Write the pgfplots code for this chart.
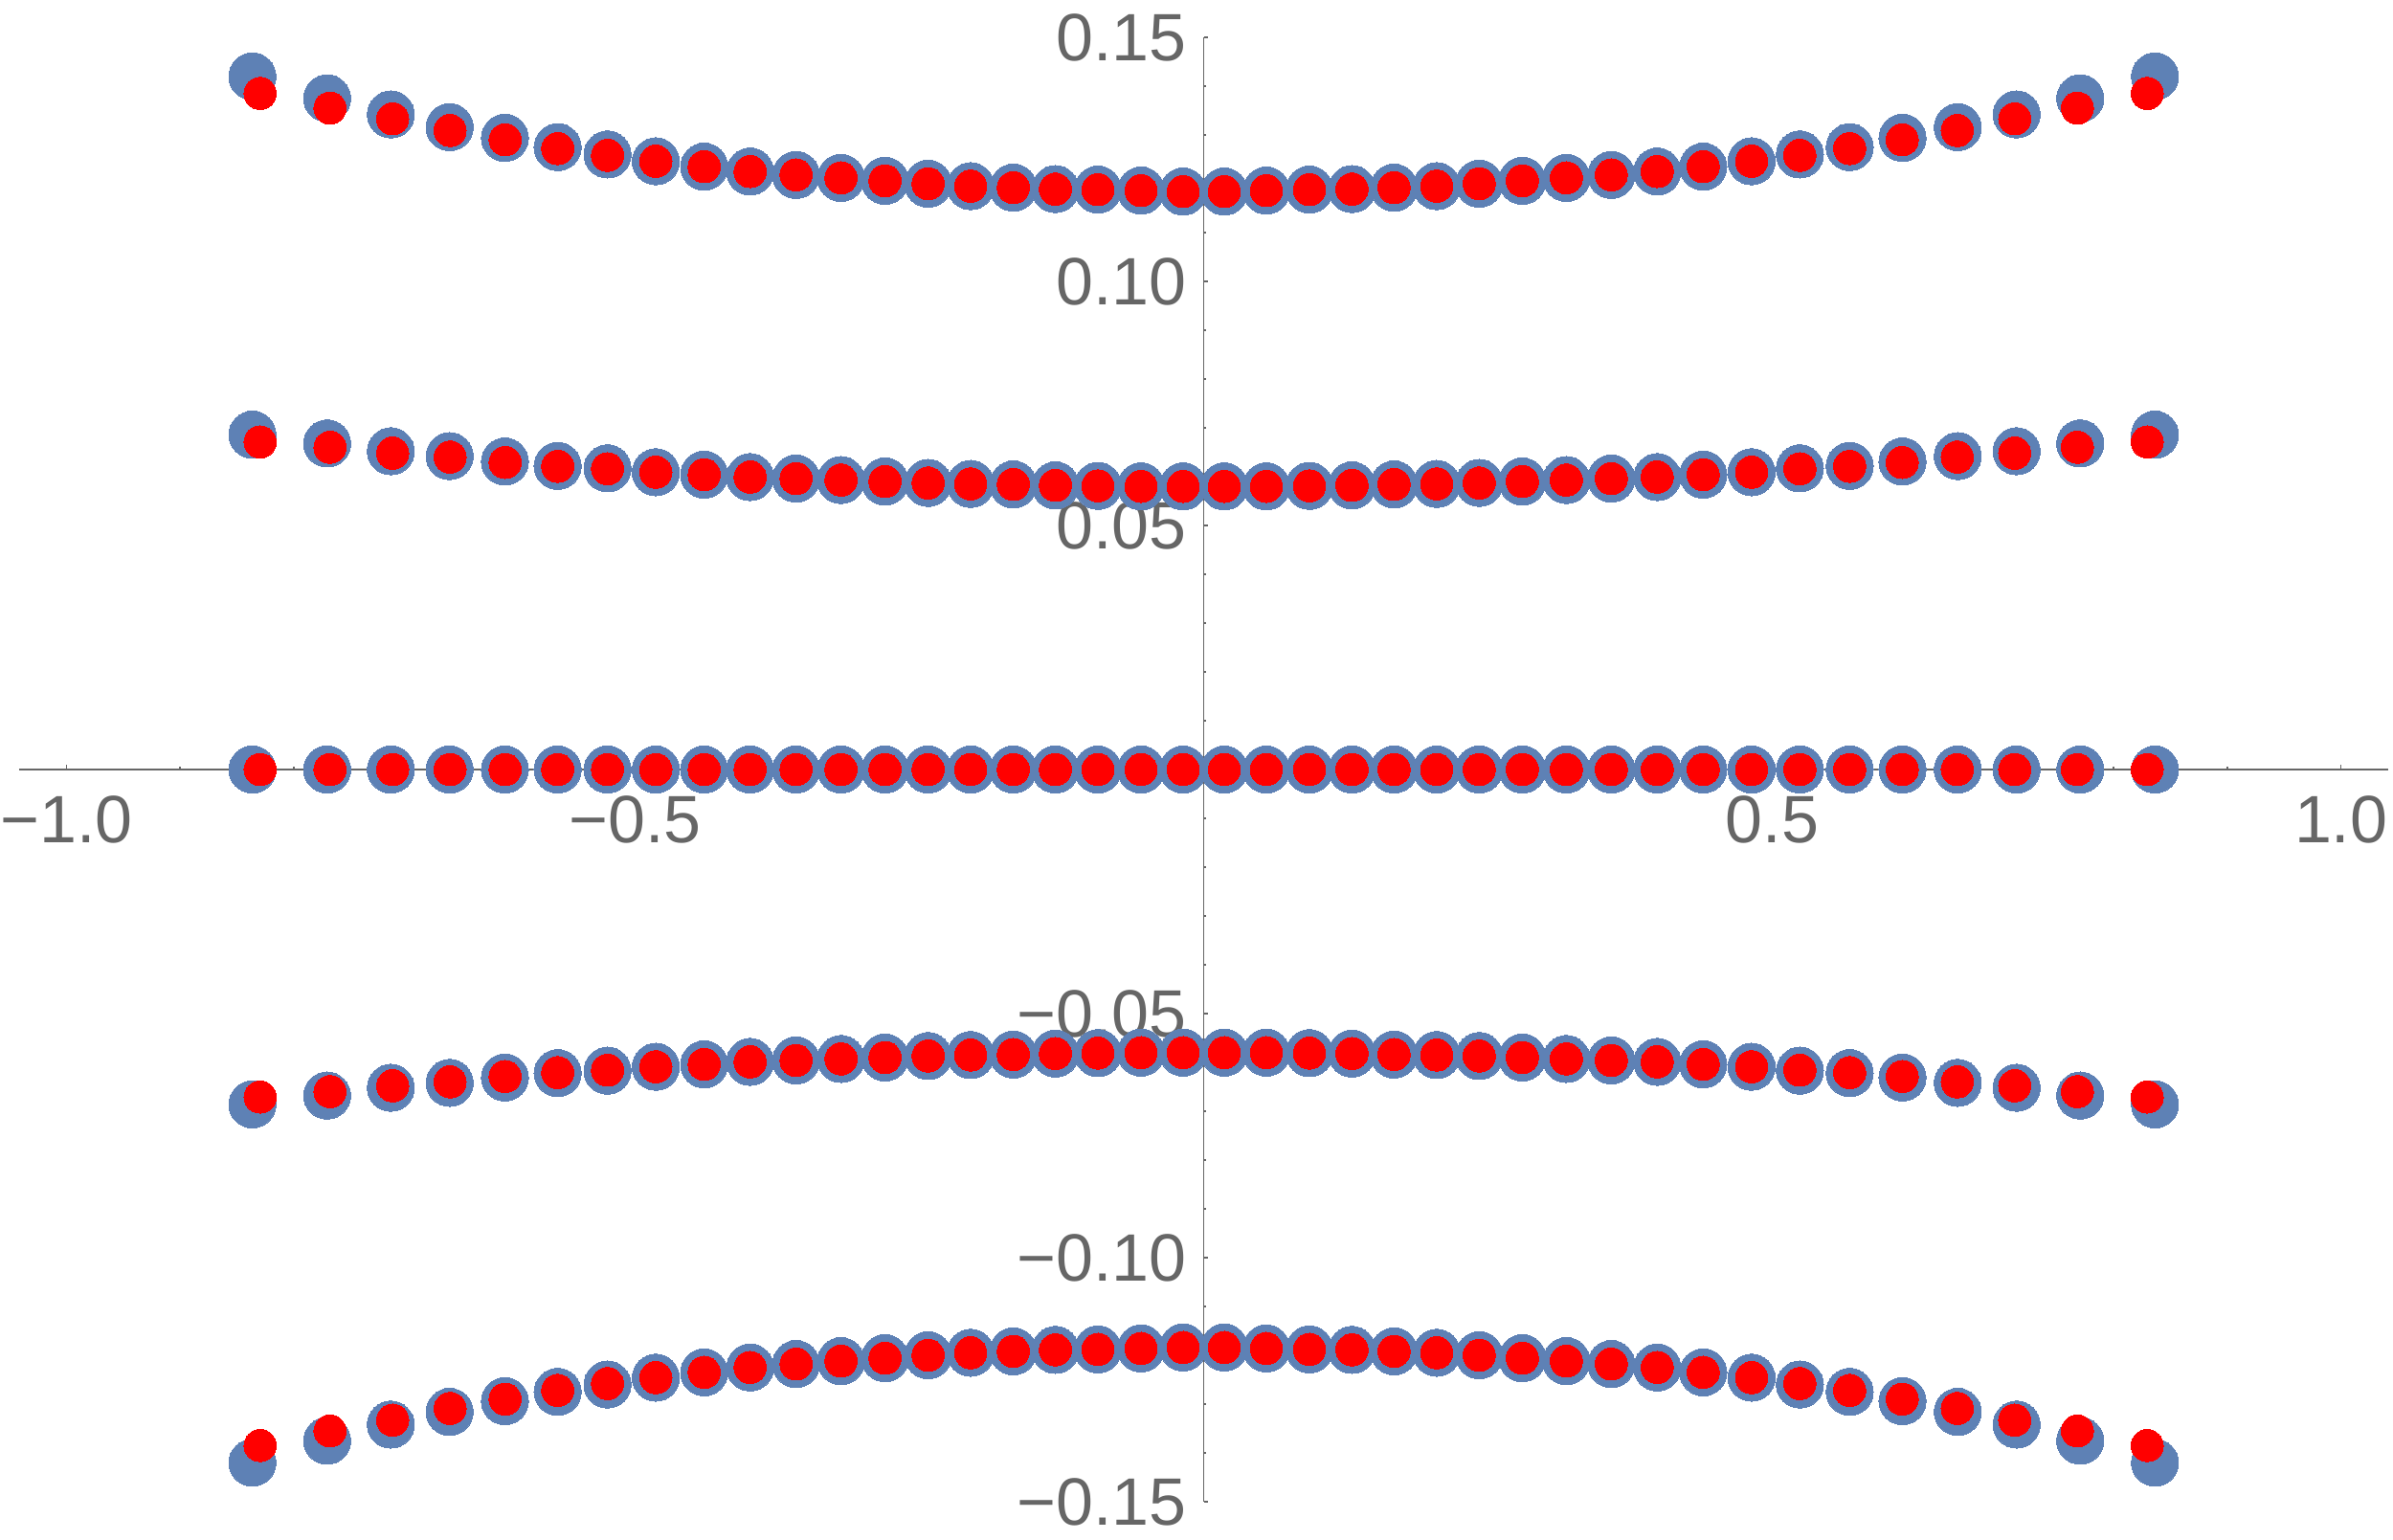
\documentclass[border=0pt]{standalone}
\usepackage{fontspec}
\setmainfont{Liberation Sans}
\usepackage{pgfplots}
\usepackage{pgfplotstable}
\pgfplotsset{compat=1.18}
\definecolor{mblue}{HTML}{5E81B5}
\definecolor{mred}{HTML}{FF0000}
\definecolor{axgray}{HTML}{666666}

% columns: x, five rows of points (top to bottom)
\pgfplotstableread{
x y1 y2 y3 y4 y5
-0.8296 0.1385 0.0671 0 -0.0671 -0.1385
-0.7682 0.1355 0.0660 0 -0.0660 -0.1355
-0.7131 0.1333 0.0648 0 -0.0648 -0.1333
-0.6626 0.1309 0.0640 0 -0.0640 -0.1309
-0.6142 0.1290 0.0629 0 -0.0629 -0.1290
-0.5680 0.1272 0.0621 0 -0.0621 -0.1272
-0.5242 0.1258 0.0616 0 -0.0616 -0.1258
-0.4817 0.1246 0.0609 0 -0.0609 -0.1246
-0.4392 0.1235 0.0604 0 -0.0604 -0.1235
-0.3988 0.1225 0.0599 0 -0.0599 -0.1225
-0.3584 0.1218 0.0596 0 -0.0596 -0.1218
-0.3189 0.1212 0.0593 0 -0.0593 -0.1212
-0.2802 0.1206 0.0590 0 -0.0590 -0.1206
-0.2423 0.1200 0.0587 0 -0.0587 -0.1200
-0.2049 0.1195 0.0585 0 -0.0585 -0.1195
-0.1674 0.1192 0.0584 0 -0.0584 -0.1192
-0.1304 0.1189 0.0582 0 -0.0582 -0.1189
-0.0930 0.1188 0.0581 0 -0.0581 -0.1188
-0.0551 0.1186 0.0580 0 -0.0580 -0.1186
-0.0181 0.1184 0.0580 0 -0.0580 -0.1184
0.0181 0.1184 0.0580 0 -0.0580 -0.1184
0.0551 0.1186 0.0580 0 -0.0580 -0.1186
0.0930 0.1188 0.0581 0 -0.0581 -0.1188
0.1304 0.1189 0.0582 0 -0.0582 -0.1189
0.1674 0.1192 0.0584 0 -0.0584 -0.1192
0.2049 0.1195 0.0585 0 -0.0585 -0.1195
0.2423 0.1200 0.0587 0 -0.0587 -0.1200
0.2802 0.1206 0.0590 0 -0.0590 -0.1206
0.3189 0.1212 0.0593 0 -0.0593 -0.1212
0.3584 0.1218 0.0596 0 -0.0596 -0.1218
0.3988 0.1225 0.0599 0 -0.0599 -0.1225
0.4392 0.1235 0.0604 0 -0.0604 -0.1235
0.4817 0.1246 0.0609 0 -0.0609 -0.1246
0.5242 0.1258 0.0616 0 -0.0616 -0.1258
0.5680 0.1272 0.0621 0 -0.0621 -0.1272
0.6142 0.1290 0.0629 0 -0.0629 -0.1290
0.6626 0.1309 0.0640 0 -0.0640 -0.1309
0.7131 0.1333 0.0648 0 -0.0648 -0.1333
0.7682 0.1355 0.0660 0 -0.0660 -0.1355
0.8296 0.1385 0.0671 0 -0.0671 -0.1385
}\redpts

\pgfplotstableread{
x y1 y2 y3 y4 y5
-0.8364 0.1420 0.0686 0 -0.0686 -0.1420
-0.7707 0.1375 0.0668 0 -0.0668 -0.1375
-0.7147 0.1342 0.0652 0 -0.0652 -0.1342
-0.6630 0.1316 0.0642 0 -0.0642 -0.1316
-0.6144 0.1294 0.0631 0 -0.0631 -0.1294
-0.5680 0.1275 0.0622 0 -0.0622 -0.1275
-0.5242 0.1260 0.0617 0 -0.0617 -0.1260
-0.4817 0.1246 0.0609 0 -0.0609 -0.1246
-0.4392 0.1235 0.0604 0 -0.0604 -0.1235
-0.3988 0.1225 0.0599 0 -0.0599 -0.1225
-0.3584 0.1218 0.0596 0 -0.0596 -0.1218
-0.3189 0.1212 0.0593 0 -0.0593 -0.1212
-0.2802 0.1206 0.0590 0 -0.0590 -0.1206
-0.2423 0.1200 0.0587 0 -0.0587 -0.1200
-0.2049 0.1195 0.0585 0 -0.0585 -0.1195
-0.1674 0.1192 0.0584 0 -0.0584 -0.1192
-0.1304 0.1189 0.0582 0 -0.0582 -0.1189
-0.0930 0.1188 0.0581 0 -0.0581 -0.1188
-0.0551 0.1186 0.0580 0 -0.0580 -0.1186
-0.0181 0.1184 0.0580 0 -0.0580 -0.1184
0.0181 0.1184 0.0580 0 -0.0580 -0.1184
0.0551 0.1186 0.0580 0 -0.0580 -0.1186
0.0930 0.1188 0.0581 0 -0.0581 -0.1188
0.1304 0.1189 0.0582 0 -0.0582 -0.1189
0.1674 0.1192 0.0584 0 -0.0584 -0.1192
0.2049 0.1195 0.0585 0 -0.0585 -0.1195
0.2423 0.1200 0.0587 0 -0.0587 -0.1200
0.2802 0.1206 0.0590 0 -0.0590 -0.1206
0.3189 0.1212 0.0593 0 -0.0593 -0.1212
0.3584 0.1218 0.0596 0 -0.0596 -0.1218
0.3988 0.1225 0.0599 0 -0.0599 -0.1225
0.4392 0.1235 0.0604 0 -0.0604 -0.1235
0.4817 0.1246 0.0609 0 -0.0609 -0.1246
0.5242 0.1260 0.0617 0 -0.0617 -0.1260
0.5680 0.1275 0.0622 0 -0.0622 -0.1275
0.6144 0.1294 0.0631 0 -0.0631 -0.1294
0.6630 0.1316 0.0642 0 -0.0642 -0.1316
0.7147 0.1342 0.0652 0 -0.0652 -0.1342
0.7707 0.1375 0.0668 0 -0.0668 -0.1375
0.8364 0.1420 0.0686 0 -0.0686 -0.1420
}\bluepts

\begin{document}
\begin{tikzpicture}
\begin{axis}[
  name=ax,
  scale only axis,
  width=495pt,
  height=306pt,
  xmin=-1.0415, xmax=1.0415,
  ymin=-0.15, ymax=0.15,
  axis lines=middle,
  axis line style={-, draw=axgray, line width=0.3pt},
  xtick={-1,-0.5,0.5,1},
  xticklabels={−1.0,−0.5,0.5,1.0},
  minor xtick={-0.9,-0.8,-0.7,-0.6,-0.4,-0.3,-0.2,-0.1,0.1,0.2,0.3,0.4,0.6,0.7,0.8,0.9},
  ytick={-0.15,-0.1,-0.05,0.05,0.1,0.15},
  yticklabels={−0.15,−0.10,−0.05,0.05,0.10,0.15},
  minor ytick={-0.14,-0.13,-0.12,-0.11,-0.09,-0.08,-0.07,-0.06,-0.04,-0.03,-0.02,-0.01,0.01,0.02,0.03,0.04,0.06,0.07,0.08,0.09,0.11,0.12,0.13,0.14},
  tick align=inside,
  major tick length=0.9pt,
  minor tick length=0.5pt,
  tick style={draw=axgray, line width=0.3pt},
  ticklabel style={font=\fontsize{14}{16}\selectfont, text=axgray},
  xticklabel style={yshift=-1.9pt},
  bluemark/.style={only marks, mark=*, color=mblue, mark size=4.93pt, mark options={solid, draw=mblue, fill=mblue, line width=0pt}},
  redmark/.style={only marks, mark=*, color=mred, mark size=3.37pt, mark options={solid, draw=mred, fill=mred, line width=0pt}},
]
\addplot[bluemark] table[x=x, y=y1] {\bluepts};
\addplot[bluemark] table[x=x, y=y2] {\bluepts};
\addplot[bluemark] table[x=x, y=y3] {\bluepts};
\addplot[bluemark] table[x=x, y=y4] {\bluepts};
\addplot[bluemark] table[x=x, y=y5] {\bluepts};
\addplot[redmark] table[x=x, y=y1] {\redpts};
\addplot[redmark] table[x=x, y=y2] {\redpts};
\addplot[redmark] table[x=x, y=y3] {\redpts};
\addplot[redmark] table[x=x, y=y4] {\redpts};
\addplot[redmark] table[x=x, y=y5] {\redpts};
\end{axis}
\pgfresetboundingbox
\path ([shift={(-4pt,-8pt)}]ax.south west) rectangle ([shift={(1pt,7.8pt)}]ax.north east);
\end{tikzpicture}
\end{document}
